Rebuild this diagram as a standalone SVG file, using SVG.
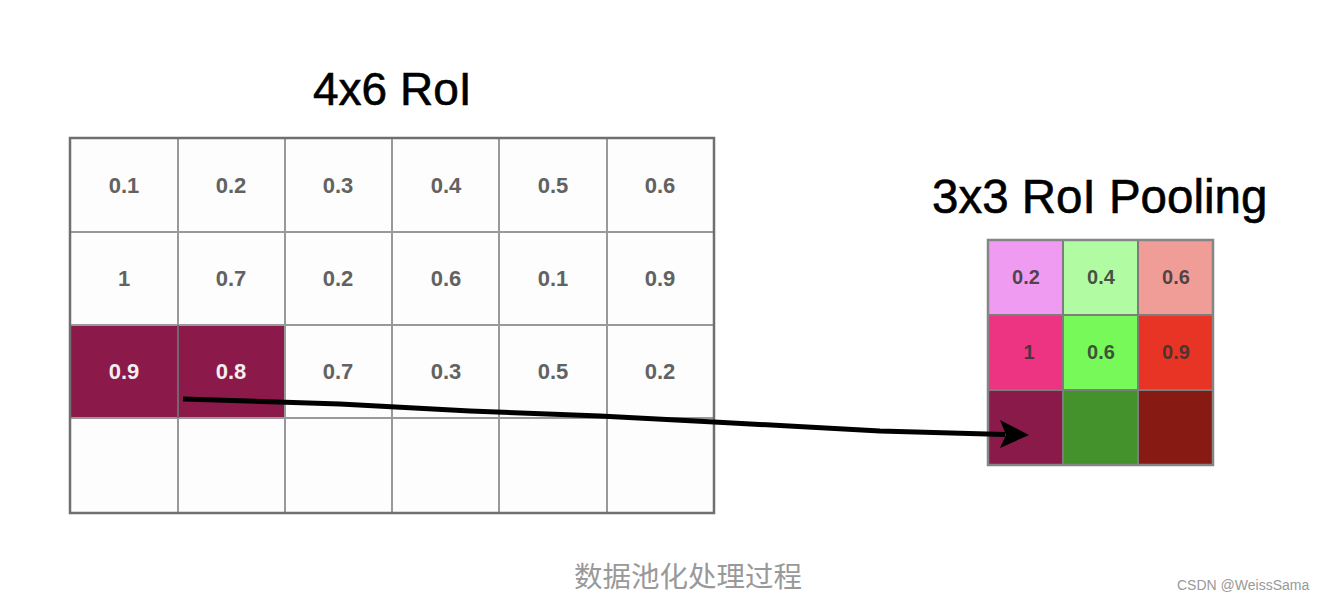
<svg xmlns="http://www.w3.org/2000/svg" width="1324" height="600" viewBox="0 0 1324 600">
<style>
.title{font-family:"Liberation Sans",Arial,sans-serif;font-size:46px;fill:#000;stroke:#000;stroke-width:0.6}
.cell{fill:#fcfdfc;stroke:#8f8f8f;stroke-width:2}
.hl{fill:#8b1a4a;stroke:#7a6a70;stroke-width:1.5}
.val{font-family:"Liberation Sans",Arial,sans-serif;font-size:22px;font-weight:bold;fill:#626262;text-anchor:middle}
.valw{font-family:"Liberation Sans",Arial,sans-serif;font-size:22px;font-weight:bold;fill:#f4eef0;text-anchor:middle}
.pcell{stroke:#7d7d7d;stroke-width:2}
.pval{font-family:"Liberation Sans",Arial,sans-serif;font-size:20px;font-weight:bold;fill:#333;fill-opacity:0.85;text-anchor:middle}
.cap{font-family:"Liberation Sans","Noto Sans CJK SC",sans-serif;font-size:28.5px;fill:#999;text-anchor:middle}
.wm{font-family:"Liberation Sans",Arial,sans-serif;font-size:14px;fill:#999}
</style>
<rect width="1324" height="600" fill="#fff"/>
<text class="title" x="313" y="105">4x6 RoI</text>
<text class="title" x="932" y="213" style="font-size:47.5px">3x3 RoI Pooling</text>
<g id="roi-grid">
<rect class="cell" x="70" y="138" width="644" height="375"/>
<rect class="hl" x="70" y="325" width="215" height="93"/>
<g stroke="#999" stroke-width="2">
<line x1="178" y1="138" x2="178" y2="513"/>
<line x1="285" y1="138" x2="285" y2="513"/>
<line x1="392" y1="138" x2="392" y2="513"/>
<line x1="499" y1="138" x2="499" y2="513"/>
<line x1="607" y1="138" x2="607" y2="513"/>
<line x1="70" y1="232" x2="714" y2="232"/>
<line x1="70" y1="325" x2="714" y2="325"/>
<line x1="70" y1="418" x2="714" y2="418"/>
</g>
<line x1="178" y1="325" x2="178" y2="418" stroke="#6a5560" stroke-width="1.5"/>
<rect x="70" y="138" width="644" height="375" fill="none" stroke="#6f6f6f" stroke-width="2.5"/>
<text class="val" x="124" y="193">0.1</text>
<text class="val" x="231" y="193">0.2</text>
<text class="val" x="338" y="193">0.3</text>
<text class="val" x="446" y="193">0.4</text>
<text class="val" x="553" y="193">0.5</text>
<text class="val" x="660" y="193">0.6</text>
<text class="val" x="124" y="286">1</text>
<text class="val" x="231" y="286">0.7</text>
<text class="val" x="338" y="286">0.2</text>
<text class="val" x="446" y="286">0.6</text>
<text class="val" x="553" y="286">0.1</text>
<text class="val" x="660" y="286">0.9</text>
<text class="valw" x="124" y="379">0.9</text>
<text class="valw" x="231" y="379">0.8</text>
<text class="val" x="338" y="379">0.7</text>
<text class="val" x="446" y="379">0.3</text>
<text class="val" x="553" y="379">0.5</text>
<text class="val" x="660" y="379">0.2</text>
</g>
<g id="pool-grid">
<rect class="pcell" x="988" y="240" width="75" height="75" fill="#f09bf2"/>
<rect class="pcell" x="1063" y="240" width="75" height="75" fill="#b1fca2"/>
<rect class="pcell" x="1138" y="240" width="75" height="75" fill="#f09d98"/>
<rect class="pcell" x="988" y="315" width="75" height="75" fill="#ec3483"/>
<rect class="pcell" x="1063" y="315" width="75" height="75" fill="#78f95a"/>
<rect class="pcell" x="1138" y="315" width="75" height="75" fill="#e83425"/>
<rect class="pcell" x="988" y="390" width="75" height="75" fill="#891a49"/>
<rect class="pcell" x="1063" y="390" width="75" height="75" fill="#43922b"/>
<rect class="pcell" x="1138" y="390" width="75" height="75" fill="#871b13"/>
<rect x="988" y="240" width="225" height="225" fill="none" stroke="#858585" stroke-width="2.5"/>
<text class="pval" x="1026" y="284">0.2</text>
<text class="pval" x="1101" y="284">0.4</text>
<text class="pval" x="1176" y="284">0.6</text>
<text class="pval" x="1029" y="359">1</text>
<text class="pval" x="1101" y="359">0.6</text>
<text class="pval" x="1176" y="359">0.9</text>
</g>
<g id="connectors">
<polyline points="183,399 340,404 470,411 600,416 714,422 880,431 1005,434.5" fill="none" stroke="#000" stroke-width="5" stroke-linejoin="round"/>
<polygon points="1000,420 1029,435 1000,448 1006,435" fill="#000"/>
</g>
<text class="cap" x="688" y="587">数据池化处理过程</text>
<text class="wm" x="1177" y="590">CSDN @WeissSama</text>
</svg>
